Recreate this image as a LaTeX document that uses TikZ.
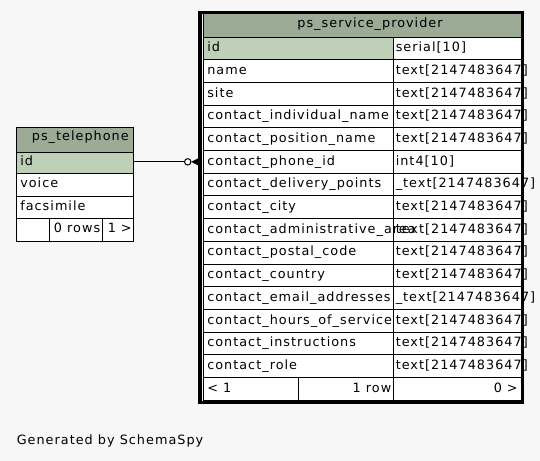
\documentclass[tikz,border=0pt]{standalone}
\usepackage{fontspec}
\newfontfamily\dvfont{DejaVu Sans}[LetterSpace=8]
\usetikzlibrary{calc}
\definecolor{bgc}{HTML}{F7F7F7}
\definecolor{hdrc}{HTML}{9BAB96}
\definecolor{pkc}{HTML}{BED1B8}
\tikzset{
  x=0.75pt, y=-0.75pt,
  thin line/.style={line width=0.75pt},
  cell/.style={draw=black, line width=0.75pt, fill=white},
  txt/.style={inner sep=0pt, anchor=base west, font=\dvfont\fontsize{9.6pt}{11pt}\selectfont},
  rtxt/.style={txt, anchor=base east},
  ctxt/.style={txt, anchor=base},
}
\begin{document}
\begin{tikzpicture}
\fill[bgc] (0,0) rectangle (540,461);
\useasboundingbox (0,0) rectangle (540,461);

% ---------- ps_service_provider ----------
\path[cell, fill=hdrc] (203,12) rectangle (521,37);
\node[ctxt] (sphdr) at (370,27.7) {ps\_service\_provider};
\foreach \i/\n/\t in {0/id/serial[10],1/name/text[2147483647],2/site/text[2147483647],
  3/contact\_individual\_name/text[2147483647],4/contact\_position\_name/text[2147483647],
  5/contact\_phone\_id/int4[10],6/contact\_delivery\_points/\_text[2147483647],
  7/contact\_city/text[2147483647],8/contact\_administrative\_area/text[2147483647],
  9/contact\_postal\_code/text[2147483647],10/contact\_country/text[2147483647],
  11/contact\_email\_addresses/\_text[2147483647],12/contact\_hours\_of\_service/text[2147483647],
  13/contact\_instructions/text[2147483647],14/contact\_role/text[2147483647]}{
  \pgfmathsetmacro{\yt}{37+\i*22.7}
  \pgfmathsetmacro{\yb}{37+(\i+1)*22.7}
  \pgfmathsetmacro{\yl}{\yt+14.6}
  \ifnum\i=0
    \path[cell, fill=pkc] (203,\yt) rectangle (393,\yb);
  \else
    \path[cell] (203,\yt) rectangle (393,\yb);
  \fi
  \path[cell] (393,\yt) rectangle (521,\yb);
  \node[inner sep=0pt, minimum width=0pt] (spr\i) at (203,{(\yt+\yb)/2}) {};
  \node[txt] (spn\i) at (207,\yl) {\n};
  \node[txt] (spt\i) at (395.5,\yl) {\t};
}
% footer
\path[cell] (203,377.5) rectangle (298.5,400);
\path[cell] (298.5,377.5) rectangle (393,400);
\path[cell] (393,377.5) rectangle (521,400);
\node[txt] (spf1) at (207,392) {< 1};
\node[rtxt] (spf2) at (391.5,392) {1 row};
\node[rtxt] (spf3) at (518,392) {0 >};
% outer thick border
\draw[line width=2.4pt] (200,12.5) rectangle (522.5,402.5);

% ---------- ps_telephone ----------
\path[cell, fill=hdrc] (16,127) rectangle (133,152);
\node[rtxt] (telhdr) at (129,140.7) {ps\_telephone};
\path[cell, fill=pkc] (16,152) rectangle (133,173.5);
\node[inner sep=0pt] (telid) at (133,162.75) {};
\node[txt] (telidt) at (20,165) {id};
\path[cell] (16,173.5) rectangle (133,196);
\node[txt] (telvoice) at (20,187.5) {voice};
\path[cell] (16,196) rectangle (133,218.5);
\node[txt] (telfax) at (20,210) {facsimile};
\path[cell] (16,218.5) rectangle (49,241);
\path[cell] (49,218.5) rectangle (102,241);
\path[cell] (102,218.5) rectangle (133,241);
\node[rtxt] (telf1) at (100.5,232.5) {0 rows};
\node[rtxt] (telf2) at (132,232.5) {1 >};

% ---------- connector ----------
\coordinate (cend) at ($(spr5.west)+(-4,0)$);
\coordinate (ccirc) at ($(spr5.west)+(-15,0)$);
\draw[thin line] (telid.east |- ccirc) -- ($(ccirc)+(-3.2,0)$);
\draw[thin line, fill=white] (ccirc) circle[radius=3.2*0.75pt];
\fill[black] ($(ccirc)+(3.5,0)$) -- ($(cend)+(0,-3.8)$) -- ($(cend)+(0,3.8)$) -- cycle;

% ---------- caption ----------
\node[txt] (gen) at (16.5,444) {Generated by SchemaSpy};
\end{tikzpicture}
\end{document}
